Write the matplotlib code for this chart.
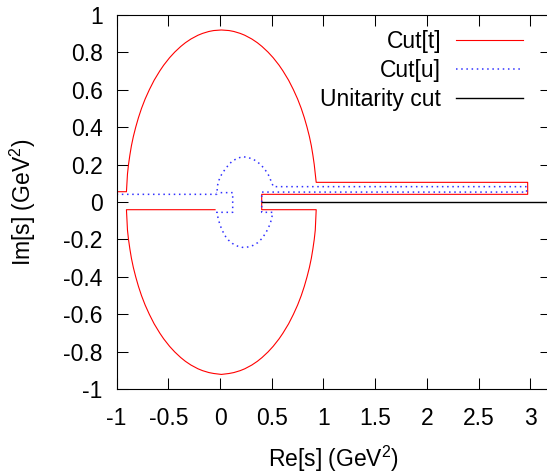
import numpy as np
import matplotlib
matplotlib.use('Agg')
import matplotlib.pyplot as plt
from matplotlib.ticker import FuncFormatter

plt.rcParams['font.family'] = ['Liberation Sans', 'DejaVu Sans']
plt.rcParams['mathtext.fontset'] = 'custom'
plt.rcParams['mathtext.rm'] = 'Liberation Sans'
plt.rcParams['axes.unicode_minus'] = False

# Cut[t] (red)
t_upper_re = [-0.905, -0.895, -0.885, -0.872, -0.857, -0.838, -0.815, -0.789, -0.759, -0.724,
              -0.683, -0.637, -0.582, -0.545, -0.488, -0.438, -0.380, -0.335, -0.281, -0.213,
              -0.168, -0.108, -0.061, 0.013, 0.087, 0.134, 0.194, 0.239, 0.307, 0.361,
              0.406, 0.464, 0.514, 0.571, 0.608, 0.663, 0.709, 0.750, 0.785, 0.815,
              0.841, 0.864, 0.883, 0.898, 0.911, 0.921, 0.930]
t_upper_im = [0.055, 0.15, 0.20, 0.25, 0.30, 0.35, 0.40, 0.45, 0.50, 0.55,
              0.60, 0.65, 0.70, 0.73, 0.77, 0.80, 0.83, 0.85, 0.87, 0.89,
              0.90, 0.91, 0.915, 0.918, 0.915, 0.91, 0.90, 0.89, 0.87, 0.85,
              0.83, 0.80, 0.77, 0.73, 0.70, 0.65, 0.60, 0.55, 0.50, 0.45,
              0.40, 0.35, 0.30, 0.25, 0.20, 0.15, 0.105]
t_band_re = [2.975, 2.975, 0.403, 0.403]
t_band_im = [0.105, 0.041, 0.041, -0.041]
t_lower_re = [0.930, 0.921, 0.911, 0.898, 0.883, 0.864, 0.841, 0.815, 0.785, 0.750,
              0.709, 0.663, 0.608, 0.571, 0.514, 0.464, 0.406, 0.361, 0.307, 0.239,
              0.194, 0.134, 0.087, 0.013, -0.061, -0.108, -0.168, -0.213, -0.281, -0.335,
              -0.380, -0.438, -0.488, -0.545, -0.582, -0.637, -0.683, -0.724, -0.759, -0.789,
              -0.815, -0.838, -0.857, -0.872, -0.885, -0.895, -0.905, -0.048]
t_lower_im = [-0.041, -0.15, -0.20, -0.25, -0.30, -0.35, -0.40, -0.45, -0.50, -0.55,
              -0.60, -0.65, -0.70, -0.73, -0.77, -0.80, -0.83, -0.85, -0.87, -0.89,
              -0.90, -0.91, -0.915, -0.92, -0.915, -0.91, -0.90, -0.89, -0.87, -0.85,
              -0.83, -0.80, -0.77, -0.73, -0.70, -0.65, -0.60, -0.55, -0.50, -0.45,
              -0.40, -0.35, -0.30, -0.25, -0.20, -0.15, -0.041, -0.041]

# Cut[u] (blue dotted)
u_re = [-1.0, -0.032, -0.023, -0.010, 0.016, 0.048, 0.081, 0.119, 0.168, 0.216,
        0.268, 0.322, 0.364, 0.403, 0.442, 0.474, 0.493, 0.516, 2.965, 2.965,
        0.403, 0.403, 0.509, 0.500, 0.484, 0.461, 0.435, 0.403, 0.364, 0.322,
        0.268, 0.216, 0.168, 0.119, 0.081, 0.048, 0.023, 0.0, -0.016, -0.032,
        0.1225, 0.1225, -0.032]
u_im = [0.041, 0.041, 0.091, 0.117, 0.148, 0.174, 0.197, 0.219, 0.233, 0.242,
        0.238, 0.228, 0.213, 0.194, 0.167, 0.139, 0.112, 0.082, 0.082, 0.053,
        0.053, -0.055, -0.055, -0.087, -0.117, -0.146, -0.171, -0.196, -0.217, -0.231,
        -0.240, -0.242, -0.235, -0.221, -0.203, -0.180, -0.153, -0.123, -0.092, -0.055,
        -0.055, 0.050, 0.050]

# unitarity cut
unit_re = [0.403, 3.2]
unit_im = [0.0, 0.0]

xticks = np.arange(-1, 3.01, 0.5)
yticks = np.arange(-1, 1.01, 0.2)

fig = plt.figure(figsize=(5.47, 4.73), dpi=100)
ax = fig.add_axes([0.2132, 0.1767, 0.7940, 0.7924])

t_re = [-1.0] + t_upper_re + t_band_re + t_lower_re
t_im = [0.055] + t_upper_im + t_band_im + t_lower_im
ax.plot(t_re, t_im, color='#ff0000', lw=0.8, label='Cut[t]')
ax.plot(u_re, u_im, color='#3030ff', lw=1.1, ls=(0, (1, 2.4)), label='Cut[u]')
ax.plot(unit_re, unit_im, color='black', lw=1.0, label='Unitarity cut')

ax.set_xlim(-1, 3.2)
ax.set_ylim(-1, 1)
ax.set_xticks(xticks)
ax.set_yticks(yticks)
fmt = FuncFormatter(lambda v, p: '%g' % (round(v, 2) + 0.0))
ax.xaxis.set_major_formatter(fmt)
ax.yaxis.set_major_formatter(fmt)
ax.tick_params(direction='in', length=7.7, width=0.75, top=True, right=True,
               labelsize=16.5, pad=10)
ax.tick_params(axis='x', pad=13)
for s in ax.spines.values():
    s.set_linewidth(0.8)

ax.set_xlabel(r'Re[s] (GeV$^2$)', fontsize=16.5)
ax.set_ylabel(r'Im[s] (GeV$^2$)', fontsize=16.5)
ax.xaxis.set_label_coords(0.5, -0.146)
ax.yaxis.set_label_coords(-0.18, 0.5)

ax.legend(loc='upper right', bbox_to_anchor=(0.935, 0.96), frameon=False,
          markerfirst=False, fontsize=16.5, handlelength=2.9, handletextpad=0.65,
          labelspacing=0.28, borderpad=0, borderaxespad=0)

fig.savefig('out.png', dpi=100)
